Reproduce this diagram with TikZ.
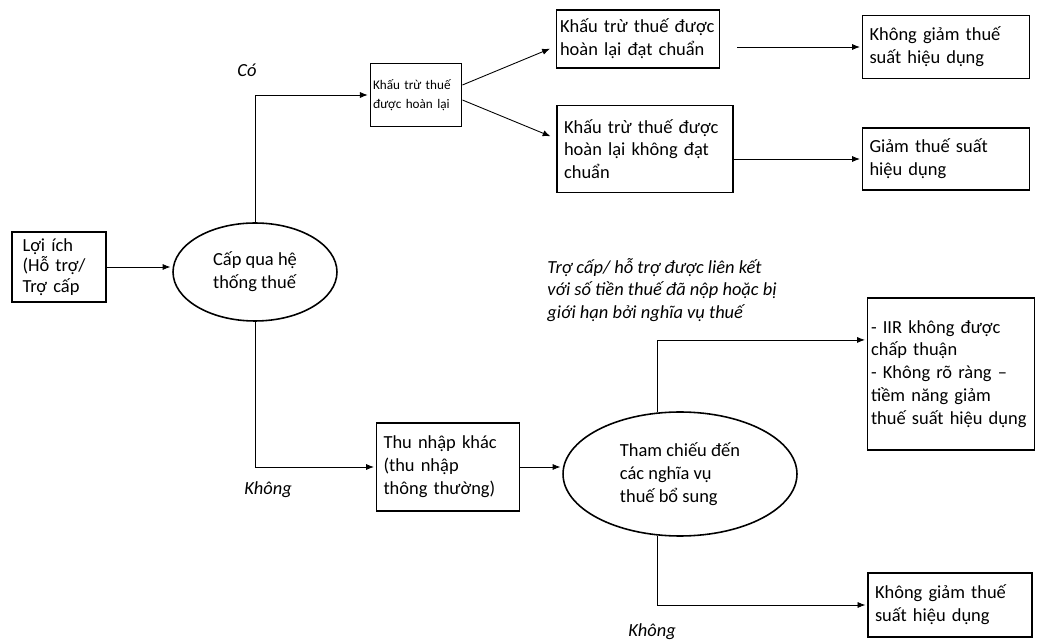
\documentclass[tikz,border=0pt]{standalone}
\usepackage{fontspec}
\setmainfont{Carlito}
\usetikzlibrary{shapes.geometric,arrows.meta,calc}

\begin{document}
\begin{tikzpicture}[x = 0.02cm, y = -0.02cm, line width = 0.9pt,
								rect/.style = {rectangle, draw, fill = 
								white, align = left, inner xsep = 4pt,
								font = \fontsize{10.5}{13}\selectfont},
								oval/.style = {ellipse, draw, fill = 
								white, align = left, inner sep = 0pt,
								font = \fontsize{10.5}{13}\selectfont},
								note/.style = {align = left,
								font = \fontsize{10.5}{13}\selectfont\itshape},
								arr/.style = {line width = 0.5pt, shorten >= 1pt,
								-{Latex[length = 4.5pt, width = 3.5pt]}},
								]
				\useasboundingbox (0,0) rectangle (1037,644);

				\node [rect, text width = 1.46cm, inner xsep = 6pt, minimum height = 1.4cm,
				font = \fontsize{10.5}{11.5}\selectfont] (b_1) at (59,267) {Lợi ích\\(Hỗ trợ/\\Trợ cấp};
				\node [oval, minimum width = 3.28cm, minimum height = 1.96cm] (e_1) at (255,272) {Cấp qua hệ\\thống thuế};
				\node [rect, text width = 1.72cm, inner xsep = 1.5pt, minimum height = 1.26cm,
				font = \fontsize{7.5}{10.5}\selectfont] (b_2) at (416,95) {Khấu trừ thuế\\được hoàn lại};
				\node [rect, text width = 3.12cm, inner xsep = 2pt, minimum height = 1.16cm] (b_3) at (638,39) {Khấu trừ thuế được\\hoàn lại đạt chuẩn};
				\node [rect, text width = 3.24cm, minimum height = 1.74cm] (b_4) at (645,149) {Khấu trừ thuế được\\hoàn lại không đạt\\chuẩn};
				\node [rect, text width = 3.06cm, minimum height = 1.26cm] (b_5) at (946,47) {Không giảm thuế\\suất hiệu dụng};
				\node [rect, text width = 3.06cm, minimum height = 1.24cm] (b_6) at (946,159) {Giảm thuế suất\\hiệu dụng};
				\node [rect, text width = 2.58cm, minimum height = 1.76cm] (b_7) at (448,467) {Thu nhập khác\\(thu nhập\\thông thường)};
				\node [oval, minimum width = 4.68cm, minimum height = 2.48cm] (e_2) at (680,474) {Tham chiếu đến\\các nghĩa vụ\\thuế bổ sung};
				\node [rect, text width = 3.2cm, inner xsep = 2pt, minimum height = 3.04cm] (b_8) at (951,374)
				{- IIR không được\\chấp thuận\\- Không rõ ràng --\\tiềm năng giảm\\thuế suất hiệu dụng};
				\node [rect, text width = 3.0cm, minimum height = 1.28cm] (b_9) at (950,605) {Không giảm thuế\\suất hiệu dụng};

				\node [note] (t_1) at (247,70) {Có};
				\node [note] (t_2) at (268,490) {Không};
				\node [note] (t_3) at (662,290) {Trợ cấp/ hỗ trợ được liên kết\\với số tiền thuế đã nộp hoặc bị\\giới hạn bởi nghĩa vụ thuế};
				\node [note] (t_4) at (652,632) {Không};

				\draw [arr] (b_1.east) -- (b_1.east -| e_1.west);
				\draw [arr] (e_1.north) |- (b_2.west);
				\draw [arr] ($(b_2.east)+(0,-10)$) -- ($(b_3.west)+(-4,9)$);
				\draw [arr] ($(b_2.east)+(0,5)$) -- ($(b_4.west)+(-4,-12)$);
				\draw [arr, shorten <= 0.34cm] (b_3.east |- b_5.west) -- (b_5.west);
				\draw [arr] (b_4.east |- b_6.west) -- (b_6.west);
				\draw [arr] (e_1.south) |- (b_7.west);
				\draw [arr] (b_7.east) -- (b_7.east -| e_2.west);
				\draw [arr] (e_2.110) |- (b_8.158);
				\draw [arr] (e_2.250) |- (b_9.west);
			\end{tikzpicture}
\end{document}
